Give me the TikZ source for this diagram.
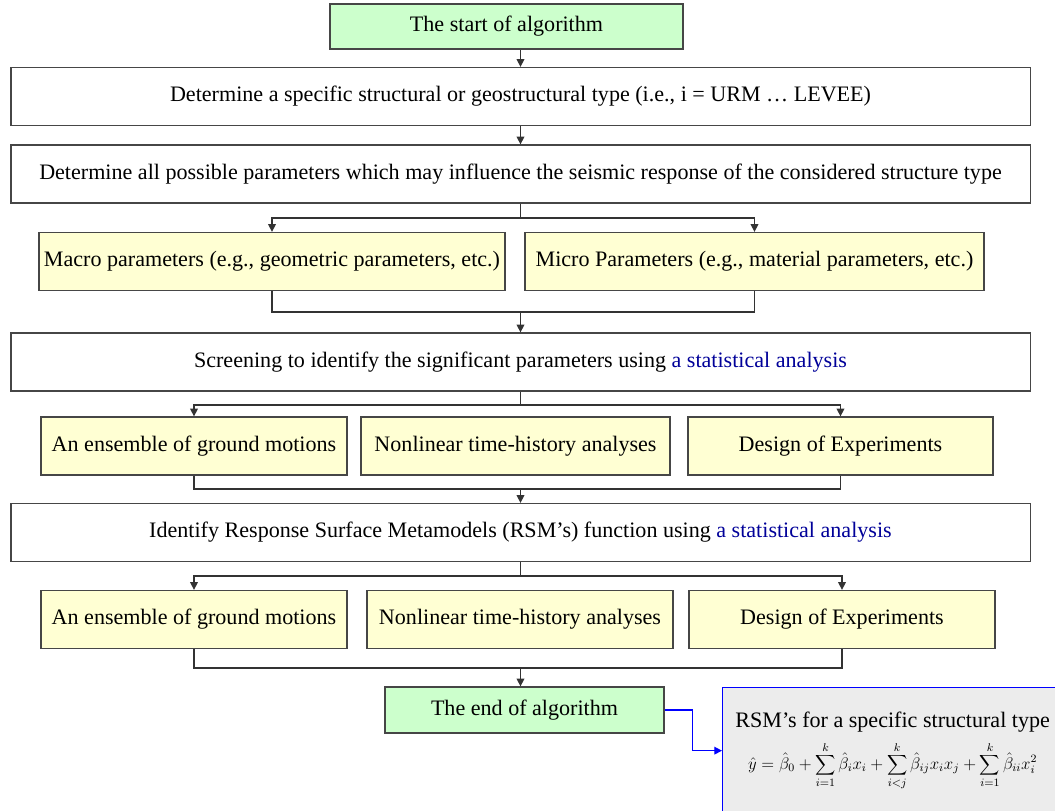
\documentclass[tikz,border=0pt]{standalone}
\usepackage{fontspec}
\setmainfont{Liberation Serif}
\usetikzlibrary{arrows.meta}

\definecolor{startgreen}{RGB}{204,255,204}
\definecolor{paryellow}{RGB}{255,255,211}
\definecolor{rsmgray}{RGB}{236,236,236}
\definecolor{statblue}{RGB}{0,0,153}
\definecolor{edgegray}{RGB}{70,70,70}

\begin{document}
\begin{tikzpicture}[x=0.025cm, y=-0.025cm,
  font=\fontsize{15.7}{18}\selectfont,
  box/.style={draw=edgegray, line width=0.9pt, inner sep=0pt, align=center},
  wide/.style={box, fill=white, minimum width=25.475cm, minimum height=1.45cm},
  greenbox/.style={box, fill=startgreen},
  parbox/.style={box, fill=paryellow, minimum height=1.45cm},
  link/.style={draw=black!80, line width=0.9pt},
  arr/.style={link, -{Triangle[length=5.5pt,width=5.5pt]}}]

  % Canvas in pixel units (x right, y down): 1055 x 811
  \useasboundingbox (0,0) rectangle (1055,811);
  \clip (0,0) rectangle (1055,811);

  % Main column of boxes
  \node[greenbox, minimum width=8.825cm, minimum height=1.125cm] (start) at (506.5,26.5) {The start of algorithm};
  \node[wide] (stype)  at (520.5, 96.5) {Determine a specific structural or geostructural type (i.e., i = URM … LEVEE)};
  \node[wide] (params) at (520.5,174.0) {Determine all possible parameters which may influence the seismic response of the considered structure type};

  % Macro / micro parameters
  \node[parbox, minimum width=11.65cm]  (macro) at (272.0,261.5) {Macro parameters (e.g., geometric parameters, etc.)};
  \node[parbox, minimum width=11.475cm] (micro) at (754.5,261.5) {Micro Parameters (e.g., material parameters, etc.)};

  \node[wide] (screen) at (520.5,362.0) {Screening to identify the significant parameters using \textcolor{statblue}{a statistical analysis}};

  % First row of three
  \node[parbox, minimum width=7.65cm]  (ground1) at (194.0,446.0) {An ensemble of ground motions};
  \node[parbox, minimum width=7.725cm] (nlth1)   at (515.5,446.0) {Nonlinear time-history analyses};
  \node[parbox, minimum width=7.625cm] (doe1)    at (840.5,446.0) {Design of Experiments};

  \node[wide] (rsmfit) at (520.5,532.5) {Identify Response Surface Metamodels (RSM’s) function using \textcolor{statblue}{a statistical analysis}};

  % Second row of three
  \node[parbox, minimum width=7.65cm] (ground2) at (194.0,619.5) {An ensemble of ground motions};
  \node[parbox, minimum width=7.65cm] (nlth2)   at (520.0,619.5) {Nonlinear time-history analyses};
  \node[parbox, minimum width=7.65cm] (doe2)    at (842.0,619.5) {Design of Experiments};

  \node[greenbox, minimum width=6.975cm, minimum height=1.15cm] (end) at (524.5,710.0) {The end of algorithm};

  % Result box (runs off the page edge)
  \node[box, draw=blue, fill=rsmgray, anchor=north west, minimum width=8.5cm, minimum height=3.15cm] (rsm) at (722,687)
    {RSM’s for a specific structural type\\[6pt]
     {\fontsize{12}{14}\selectfont$\displaystyle \hat{y} = \hat{\beta}_0 + \sum_{i=1}^{k}\hat{\beta}_i x_i + \sum_{i<j}^{k}\hat{\beta}_{ij} x_i x_j + \sum_{i=1}^{k}\hat{\beta}_{ii} x_i^2$}};

  % Branch and join points
  \coordinate (fan1)  at (520.5,218);
  \coordinate (join1) at (520.5,312);
  \coordinate (fan2)  at (520.5,405);
  \coordinate (join2) at (520.5,489);
  \coordinate (fan3)  at (520.5,576);
  \coordinate (join3) at (520.5,668);

  % Straight arrows
  \draw[arr] (stype.north |- start.south) -- (stype.north);
  \draw[arr] (stype.south) -- (params.north);

  % Fan out / join in
  \draw[link] (params.south) -- (fan1);
  \draw[arr] (fan1) -| (macro.north);
  \draw[arr] (fan1) -| (micro.north);
  \draw[link] (macro.south) |- (join1) -| (micro.south);
  \draw[arr] (join1) -- (screen.north);

  \draw[link] (screen.south) -- (fan2);
  \draw[arr] (fan2) -| (ground1.north);
  \draw[arr] (fan2) -| (doe1.north);
  \draw[link] (ground1.south) |- (join2) -| (doe1.south);
  \draw[arr] (join2) -- (rsmfit.north);

  \draw[link] (rsmfit.south) -- (fan3);
  \draw[arr] (fan3) -| (ground2.north);
  \draw[arr] (fan3) -| (doe2.north);
  \draw[link] (ground2.south) |- (join3) -| (doe2.south);
  \draw[arr] (join3) -- (join3 |- end.north);

  % Blue link to the result
  \draw[blue, line width=0.9pt, -{Triangle[length=5.5pt,width=5.5pt]}] (end.east) -- ++(28,0) |- (rsm.west);

\end{tikzpicture}
\end{document}
